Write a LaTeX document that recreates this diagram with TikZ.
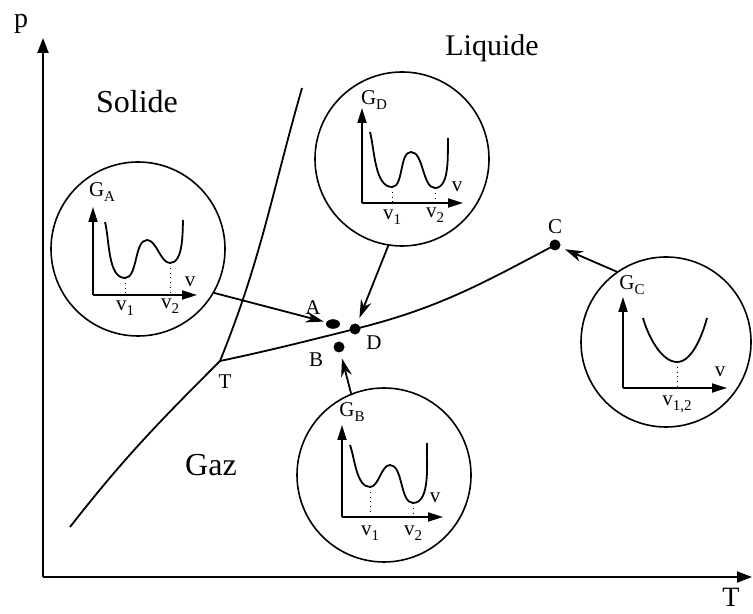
\documentclass[tikz,border=0pt]{standalone}
\usepackage{fontspec}
\setmainfont{Liberation Serif}
\usetikzlibrary{arrows.meta,shapes.geometric}

\tikzset{
  bubble/.style={draw, circle, line width=0.8pt, minimum size=87pt, inner sep=0pt},
  pnt/.style={fill, circle, inner sep=0pt, minimum size=5.5pt},
  phase/.style={font=\fontsize{16}{18}\selectfont},
  lbl/.style={font=\fontsize{10.5}{12}\selectfont, inner sep=1pt},
  tip/.style={-{Stealth[length=9pt,width=5.5pt]}, line width=0.9pt},
  axe/.style={-{Triangle[length=7.5pt,width=4.5pt]}, line width=0.9pt},
  curve/.style={line width=0.9pt},
  well/.style={line width=0.9pt, looseness=0.75},
  small/.style={font=\fontsize{10.5}{12}\selectfont, inner sep=0pt},
}
\newcommand{\sub}[1]{\raisebox{-0.5ex}{\fontsize{7.5}{8}\selectfont #1}}

\begin{document}
\begin{tikzpicture}[x=5pt,y=5pt]
\useasboundingbox (0,0) rectangle (75.3,61.4);
% axes
\coordinate (O) at (4.3,3.7);
\draw[line width=1pt,-{Triangle[length=7.5pt,width=5.5pt]}] (O) -- (4.3,57.6);
\draw[line width=1pt,-{Triangle[length=7.5pt,width=5.5pt]}] (O) -- (75.2,3.7);
\node[font=\fontsize{14}{16}\selectfont] (plab) at (2.1,59.0) {p};
\node[font=\fontsize{14}{16}\selectfont, inner sep=0pt] (Tlab) at (73.1,1.7) {T};

% phase lines
\coordinate (t) at (22.0,25.3);
\draw[curve] (7.0,8.7) to[out=52,in=-135] (t);
\draw[curve] (t) to[out=68,in=-106] (30.2,52.6);
\node[pnt] (D) at (35.5,28.5) {};
\node[pnt] (C) at (55.5,36.9) {};
\node[pnt] (B) at (33.9,26.7) {};
\node[fill, ellipse, inner sep=0pt, minimum width=7pt, minimum height=4.8pt] (A) at (33.3,29.0) {};
\draw[curve] (t) to[out=12,in=194] (D.center) to[out=14,in=-152] (C.center);

\node[phase] (sol) at (13.7,51.2) {Solide};
\node[font=\fontsize{15}{17}\selectfont] (liq) at (49.2,56.6) {Liquide};
\node[phase] (gaz) at (21.1,14.9) {Gaz};

\node[lbl] (tl) at (22.5,23.2) {T};
\node[lbl] (al) at (31.3,30.6) {A};
\node[lbl] (dl) at (37.4,27.1) {D};
\node[lbl] (bl) at (31.6,25.4) {B};
\node[lbl] (cl) at (55.5,38.7) {C};

% bubbles
\node[bubble] (cA) at (13.8,36.5) {};
\node[bubble] (cD) at (40.2,45.5) {};
\node[bubble] (cB) at (38.4,13.9) {};
\node[bubble, minimum size=85pt] (cC) at (66.6,27.2) {};

\draw[tip, shorten >=1.2pt] (cA.-30) -- (A);
\draw[tip, shorten >=3pt] (cD.-99) -- (D);
\draw[tip, shorten >=3pt] (cB.112) -- (B);
\draw[tip, shorten >=2.5pt] (cC.125) -- (C);

% G_A
\begin{scope}[shift={(cA)}]
  \draw[axe] (-4.5,-4.6) -- (-4.5,4.2);
  \draw[axe] (-4.5,-4.6) -- (5.9,-4.6);
  \draw[well] (-3.3,2.7) to[out=-75,in=180] (-1.3,-2.9) to[out=0,in=180] (0.9,0.9)
    to[out=0,in=180] (3.2,-1.4) to[out=0,in=-92] (4.5,2.9);
  \draw[dotted] (-1.3,-2.9) -- (-1.3,-4.6);
  \draw[dotted] (3.2,-1.4) -- (3.2,-4.6);
  \node[small] (gA) at (-3.6,5.7) {G\sub{A}};
  \node[small] (vA) at (5.2,-3.3) {v};
  \node[small] (vA1) at (-1.3,-5.9) {v\sub{1}};
  \node[small] (vA2) at (3.2,-5.7) {v\sub{2}};
\end{scope}

% G_D
\begin{scope}[shift={(cD)}]
  \draw[axe] (-4.0,-4.4) -- (-4.0,5.1);
  \draw[axe] (-4.0,-4.4) -- (6.1,-4.4);
  \draw[well] (-3.2,2.7) to[out=-75,in=180] (-1.0,-2.8) to[out=0,in=180] (0.9,0.7)
    to[out=0,in=180] (3.3,-2.9) to[out=0,in=-92] (4.6,2.1);
  \draw[dotted] (-1.0,-2.8) -- (-1.0,-4.4);
  \draw[dotted] (3.3,-2.9) -- (3.3,-4.4);
  \node[small] (gD) at (-2.8,5.9) {G\sub{D}};
  \node[small] (vD) at (5.5,-2.8) {v};
  \node[small] (vD1) at (-1.0,-5.8) {v\sub{1}};
  \node[small] (vD2) at (3.3,-5.6) {v\sub{2}};
\end{scope}

% G_B
\begin{scope}[shift={(cB)}]
  \draw[axe] (-4.2,-4.2) -- (-4.2,5.0);
  \draw[axe] (-4.2,-4.2) -- (5.9,-4.2);
  \draw[well] (-3.4,3.0) to[out=-70,in=180] (-1.4,-1.2) to[out=0,in=180] (0.6,1.0)
    to[out=0,in=180] (2.9,-2.8) to[out=0,in=-92] (4.3,3.2);
  \draw[dotted] (-1.4,-1.2) -- (-1.4,-4.2);
  \draw[dotted] (2.9,-2.8) -- (2.9,-4.2);
  \node[small] (gB) at (-3.2,6.3) {G\sub{B}};
  \node[small] (vB) at (5.1,-2.3) {v};
  \node[small] (vB1) at (-1.4,-5.8) {v\sub{1}};
  \node[small] (vB2) at (2.9,-5.8) {v\sub{2}};
\end{scope}

% G_C
\begin{scope}[shift={(cC)}]
  \draw[axe] (-4.3,-4.6) -- (-4.3,4.5);
  \draw[axe] (-4.3,-4.6) -- (6.1,-4.6);
  \draw[well] (-2.3,2.4) to[out=-75,in=180] (1.1,-2.0) to[out=0,in=-105] (4.1,2.4);
  \draw[dotted] (1.1,-2.0) -- (1.1,-4.6);
  \node[small] (gC) at (-3.4,5.7) {G\sub{C}};
  \node[small] (vC) at (5.4,-3.0) {v};
  \node[small] (vC12) at (1.1,-6.2) {v\sub{1,2}};
\end{scope}
\end{tikzpicture}
\end{document}
